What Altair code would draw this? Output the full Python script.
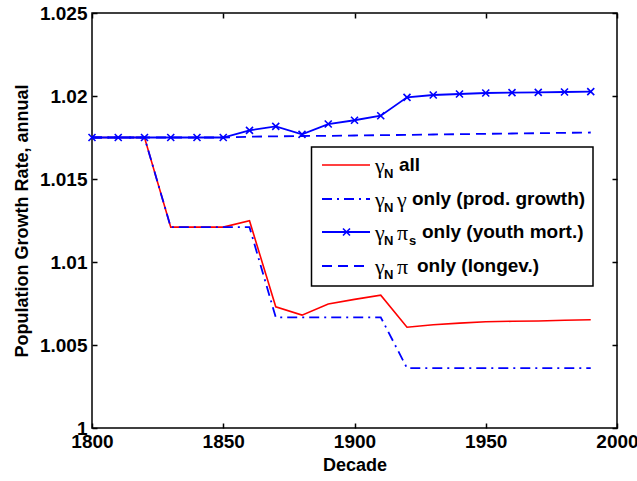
import altair as alt
import pandas as pd

# ---------------- data ----------------
decades = [1800, 1810, 1820, 1830, 1840, 1850, 1860, 1870, 1880, 1890,
           1900, 1910, 1920, 1930, 1940, 1950, 1960, 1970, 1980, 1990]

all_vals = [1.0175, 1.0175, 1.0175, 1.0121, 1.0121, 1.0121, 1.01249, 1.0073, 1.0068, 1.00747,
            1.00775, 1.0080, 1.00607, 1.00622, 1.00632, 1.0064, 1.00643, 1.00645, 1.00649, 1.00652]

gamma_vals = [1.0175, 1.0175, 1.0175, 1.0121, 1.0121, 1.0121, 1.0121, 1.00667, 1.00667, 1.00667,
              1.00667, 1.00667, 1.00361, 1.00361, 1.00361, 1.00361, 1.00361, 1.00361, 1.00361, 1.00361]

pis_vals = [1.0175, 1.0175, 1.0175, 1.0175, 1.0175, 1.0175, 1.01793, 1.01817, 1.01769, 1.01831,
            1.01854, 1.01881, 1.01992, 1.02006, 1.02012, 1.02018, 1.0202, 1.02022, 1.02024, 1.02026]

pi_vals = [1.0175, 1.0175, 1.0175, 1.0175, 1.0175, 1.0175, 1.01755, 1.01757, 1.01759, 1.0176,
           1.01762, 1.01764, 1.01766, 1.01768, 1.0177, 1.01772, 1.01774, 1.01776, 1.01778, 1.0178]

series_names = ["all", "gamma", "pis", "pi"]

x_ticks = [1800, 1850, 1900, 1950, 2000]
y_ticks = [1.0, 1.005, 1.01, 1.015, 1.02, 1.025]

rows = []
for name, vals in zip(series_names, [all_vals, gamma_vals, pis_vals, pi_vals]):
    for d, v in zip(decades, vals):
        rows.append({"decade": d, "rate": v, "series": name})
df = pd.DataFrame(rows)

# ---------------- styling ----------------
FONT = "Liberation Sans"
GREEK = "Liberation Serif"
RED = "#ff0000"
BLUE = "#0000ff"
DASHDOT = [10, 5, 2, 5]
DASHED = [10, 6]
XMARK = "M-1,-1L1,1M1,-1L-1,1"
LW = 1.8

x_scale = alt.Scale(domain=[1800, 2000], nice=False, zero=False)
y_scale = alt.Scale(domain=[1.0, 1.025], nice=False, zero=False)

common_axis = dict(offset=-5, tickSize=5, domain=False, grid=False,
                   tickColor="black", tickWidth=1.5,
                   labelFont=FONT, labelFontSize=19, labelFontWeight="bold",
                   labelColor="black", titleFont=FONT, titleFontSize=18,
                   titleFontWeight="bold", titleColor="black",
                   labelFlush=False, labelOverlap=False, labelBound=False)

x_axis = alt.Axis(values=x_ticks, format="d", title="Decade",
                  labelPadding=4, titlePadding=5, **common_axis)
y_axis = alt.Axis(values=y_ticks, format="~g", title="Population Growth Rate, annual",
                  labelPadding=5, titlePadding=8, **common_axis)

base = alt.Chart(df).encode(
    x=alt.X("decade:Q", scale=x_scale, axis=x_axis),
    y=alt.Y("rate:Q", scale=y_scale, axis=y_axis),
)

red_line = base.transform_filter(alt.datum.series == "all").mark_line(
    color=RED, strokeWidth=1.6)
gamma_line = base.transform_filter(alt.datum.series == "gamma").mark_line(
    color=BLUE, strokeWidth=LW, strokeDash=DASHDOT)
pis_line = base.transform_filter(alt.datum.series == "pis").mark_line(
    color=BLUE, strokeWidth=LW)
pis_pts = base.transform_filter(alt.datum.series == "pis").mark_point(
    shape=XMARK, size=49, color=BLUE, strokeWidth=1.6, filled=False, opacity=1)
pi_line = base.transform_filter(alt.datum.series == "pi").mark_line(
    color=BLUE, strokeWidth=LW, strokeDash=DASHED)

main = alt.layer(red_line, gamma_line, pis_line, pis_pts, pi_line)

# box-style opposite axes (top and right) with inward ticks
frame_axis = dict(offset=-5, tickSize=5, domain=False, grid=False,
                  tickColor="black", tickWidth=1.5, labels=False, title=None)
frame = alt.Chart(df).mark_point(opacity=0).encode(
    x=alt.X("decade:Q", scale=x_scale,
            axis=alt.Axis(orient="top", values=x_ticks, **frame_axis)),
    y=alt.Y("rate:Q", scale=y_scale,
            axis=alt.Axis(orient="right", values=y_ticks, **frame_axis)),
)

# ---------------- legend (drawn by hand) ----------------
one = alt.Data(values=[{}])
OX, OY = 92, 13  # plot origin in page pixels


def px(v):
    return v - OX


def py(v):
    return v - OY


legend_layers = []
legend_layers.append(
    alt.Chart(one).mark_rect(fill="white", stroke="black", strokeWidth=1.5).encode(
        x=alt.value(px(311.5)), x2=alt.value(px(593)),
        y=alt.value(py(147)), y2=alt.value(py(286)))
)

row_y = [165, 199, 232, 266]
sym_styles = [
    dict(color=RED, strokeWidth=1.6),
    dict(color=BLUE, strokeWidth=LW, strokeDash=DASHDOT),
    dict(color=BLUE, strokeWidth=LW),
    dict(color=BLUE, strokeWidth=LW, strokeDash=DASHED),
]
for ry, st in zip(row_y, sym_styles):
    legend_layers.append(
        alt.Chart(one).mark_rule(**st).encode(
            x=alt.value(px(322)), x2=alt.value(px(370)), y=alt.value(py(ry)))
    )
legend_layers.append(
    alt.Chart(one).mark_point(shape=XMARK, size=49, color=BLUE, strokeWidth=1.6,
                              filled=False, opacity=1).encode(
        x=alt.value(px(346.5)), y=alt.value(py(row_y[2])))
)


def txt(x, y, s, kind):
    if kind == "main":
        m = alt.Chart(one).mark_text(font=FONT, fontSize=19, fontWeight="bold",
                                     align="left", baseline="middle", color="black")
        yy = y
    elif kind == "sub":
        m = alt.Chart(one).mark_text(font=FONT, fontSize=13, fontWeight="bold",
                                     align="left", baseline="middle", color="black")
        yy = y + 9
    else:
        m = alt.Chart(one).mark_text(font=GREEK, fontSize=22, fontWeight="normal",
                                     align="left", baseline="middle", color="black")
        yy = y + 1
    return m.encode(x=alt.value(px(x)), y=alt.value(py(yy)), text=alt.value(s))


for ry in row_y:
    legend_layers.append(txt(375, ry, "γ", "greek"))
    legend_layers.append(txt(384, ry, "N", "sub"))

legend_layers.append(txt(399, row_y[0], "all", "main"))
legend_layers.append(txt(397, row_y[1], "γ", "greek"))
legend_layers.append(txt(412, row_y[1], "only (prod. growth)", "main"))
legend_layers.append(txt(397, row_y[2], "π", "greek"))
legend_layers.append(txt(409, row_y[2], "s", "sub"))
legend_layers.append(txt(422, row_y[2], "only (youth mort.)", "main"))
legend_layers.append(txt(397, row_y[3], "π", "greek"))
legend_layers.append(txt(417, row_y[3], "only (longev.)", "main"))

chart = alt.layer(main, frame, *legend_layers).resolve_scale(
    x="independent", y="independent"
).properties(
    width=525, height=415,
    autosize=alt.AutoSizeParams(type="none"),
    padding={"left": OX, "top": OY, "right": 20, "bottom": 53},
    background="white",
).configure_view(stroke="black", strokeWidth=1.5)

chart.save("out.html", embed_options={"renderer": "svg", "actions": False})
